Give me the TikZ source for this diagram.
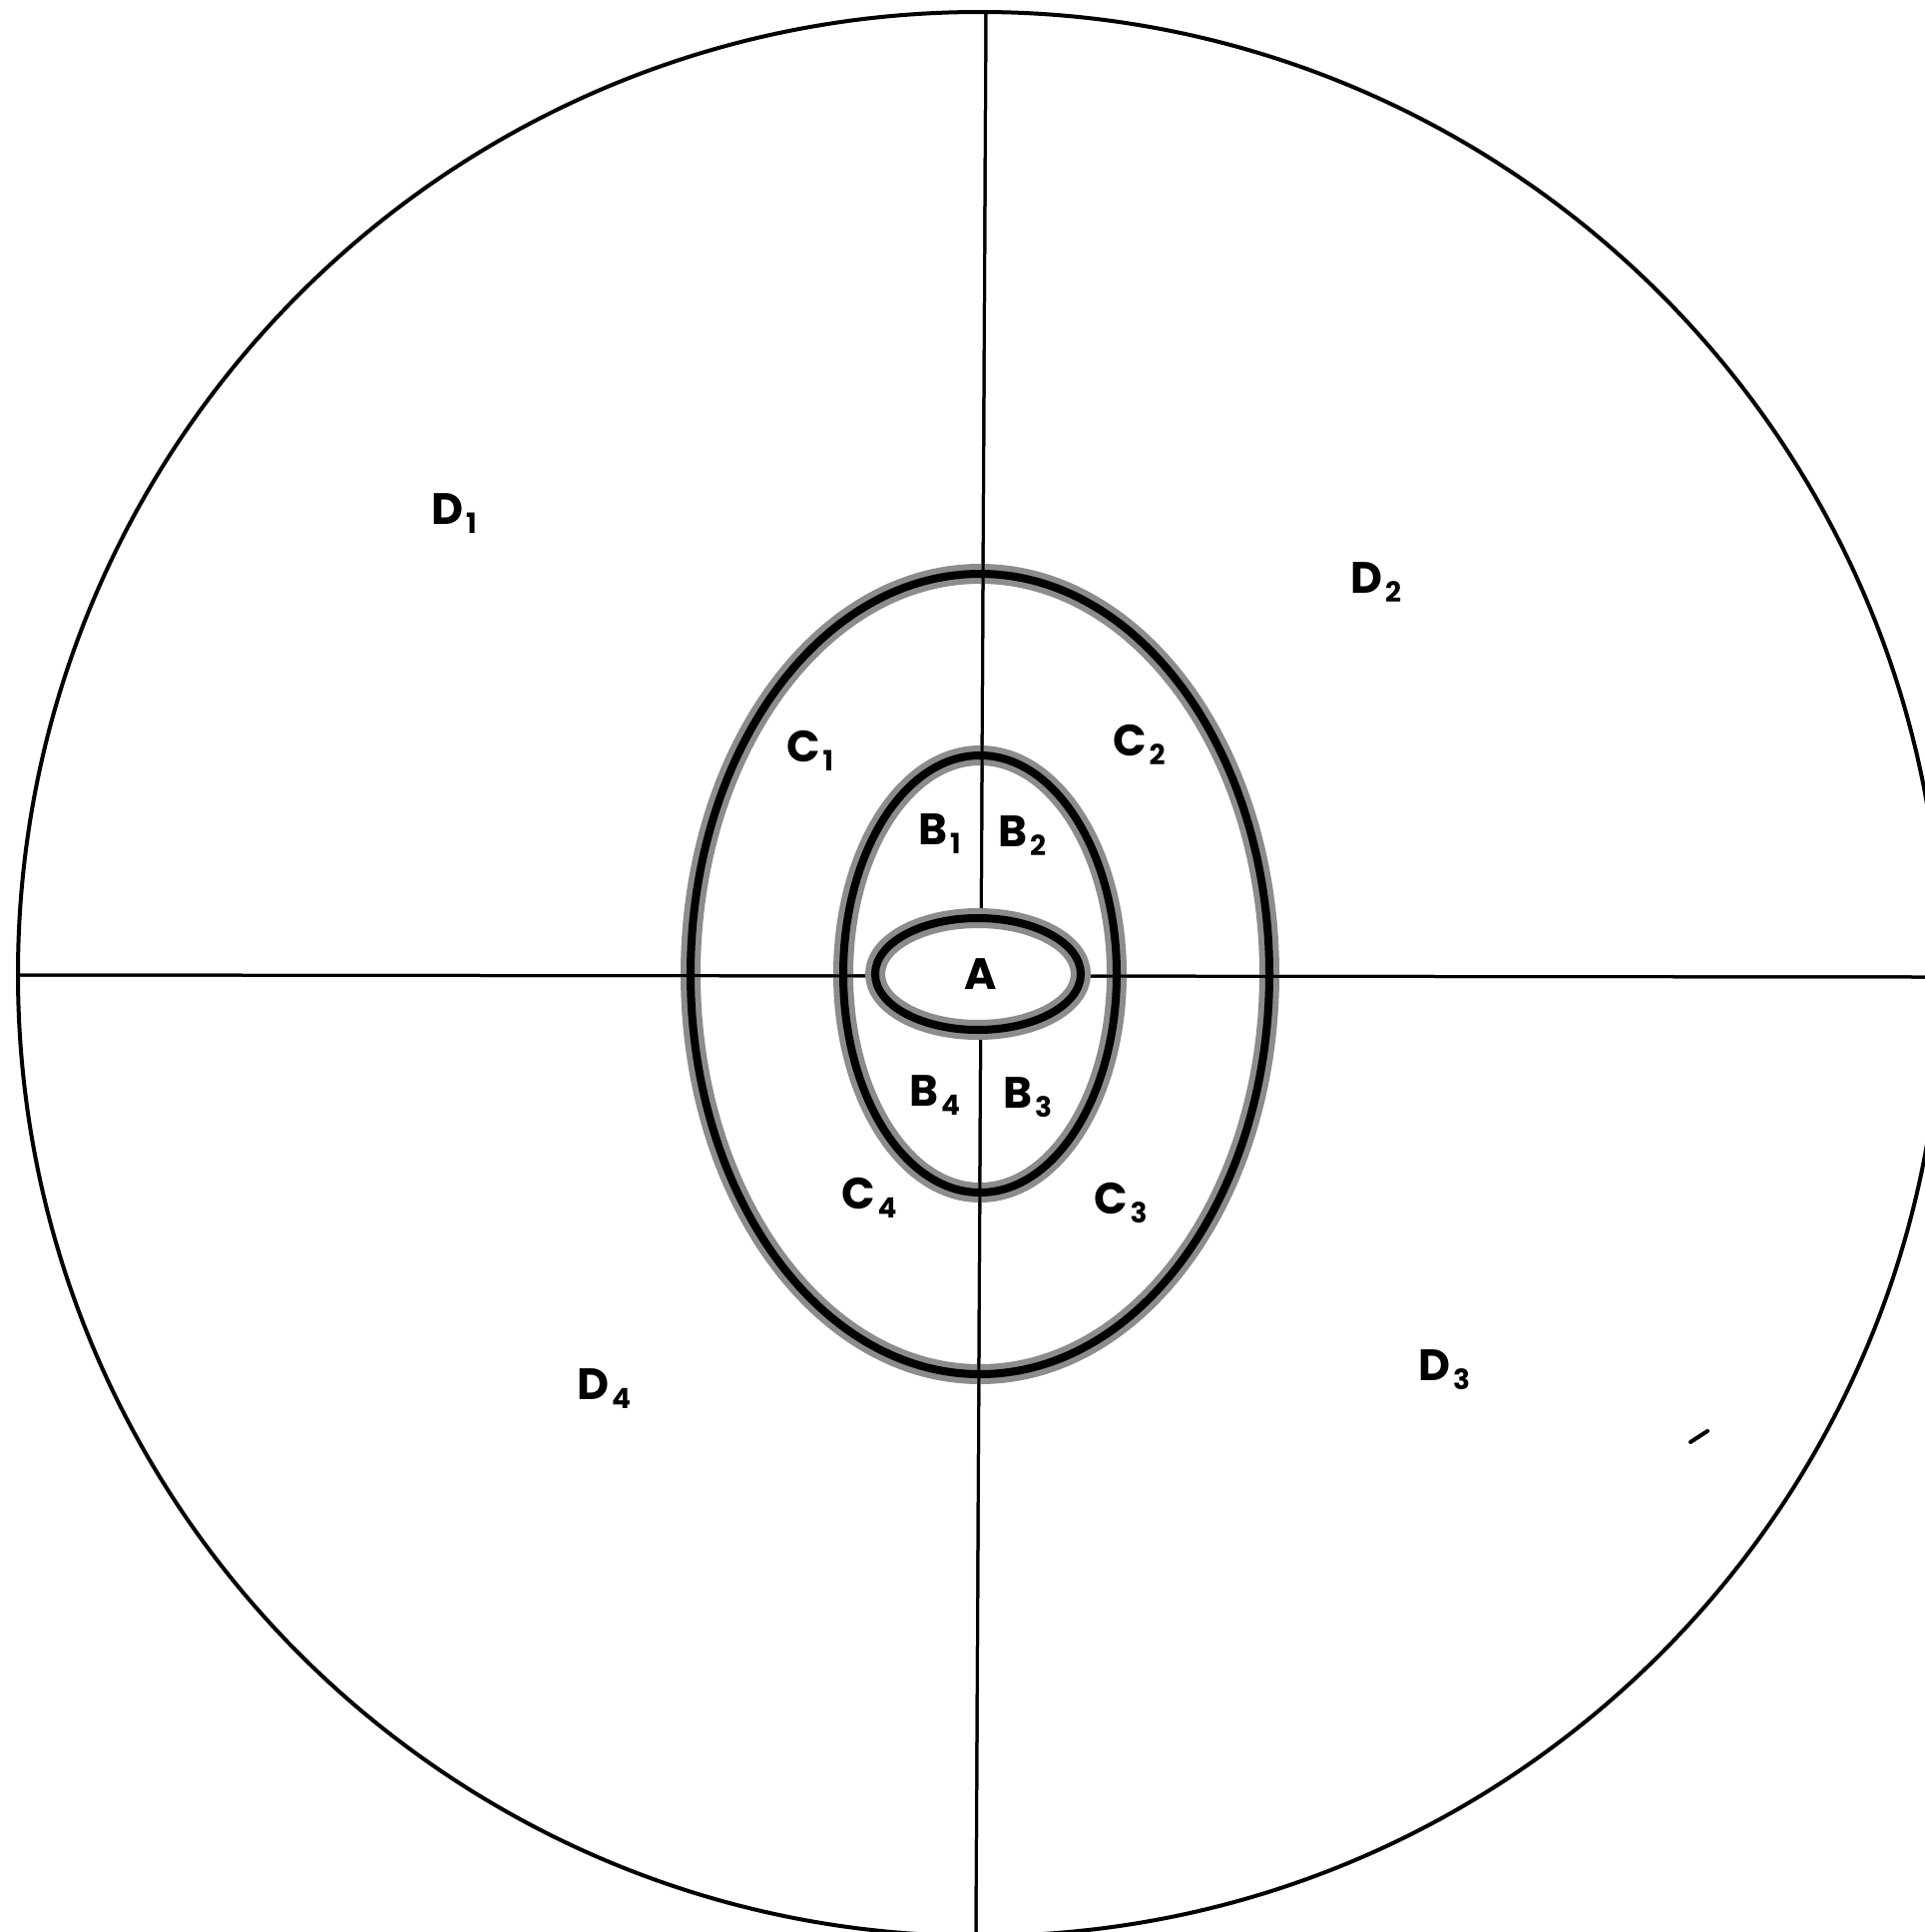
\documentclass[tikz,border=0pt]{standalone}
\usepackage{fontspec}
\setmainfont{Poppins}
\newcommand\lbl[2]{#1\kern3pt\raisebox{-9pt}{\fontsize{28}{28}\selectfont #2}}
\tikzset{
  lab/.style={inner sep=0pt, anchor=base west, font=\fontsize{44}{50}\selectfont\bfseries},
  halo/.style={line width=20pt, draw=black!45},
  core/.style={line width=8pt, draw=black},
  thin/.style={line width=3pt, draw=black},
}
\begin{document}
\begin{tikzpicture}[x=1pt,y=-1pt]
\useasboundingbox (0,0) rectangle (1929,1936);
\fill[white] (0,0) rectangle (1929,1936);
\begin{scope}
\clip (0,0) rectangle (1929,1936);
\coordinate (O) at (982,976);
\draw[line width=4pt] (O) circle [radius=964pt];
\coordinate (L) at (17,977);
\coordinate (R) at (1929,979);
\coordinate (T) at (988,12);
\coordinate (Bt) at (978,1936);
\draw[thin] (L) -- (R);
\draw[thin] (T) -- (Bt);
% C oval
\draw[halo] (O) ellipse [x radius=290pt, y radius=401pt];
\draw[core] (O) ellipse [x radius=290pt, y radius=401pt];
% B oval
\draw[halo] (O) ellipse [x radius=137pt, y radius=219pt];
\draw[core] (O) ellipse [x radius=137pt, y radius=219pt];
% redraw axes over ovals
\draw[thin] (L) -- (R);
\draw[thin] (T) -- (Bt);
% A oval
\draw[halo, fill=white] (980,976) ellipse [x radius=103pt, y radius=56pt];
\draw[core] (980,976) ellipse [x radius=103pt, y radius=56pt];
% smudge
\coordinate (s1) at (1694,1445);
\coordinate (s2) at (1711,1434);
\draw[line width=4pt, line cap=round] (s1) -- (s2);
\end{scope}
\node[lab] (d1) at (432,525) {\lbl{D}{1}};
\node[lab] (d2) at (1353,594) {\lbl{D}{2}};
\node[lab] (d3) at (1421,1383) {\lbl{D}{3}};
\node[lab] (d4) at (578,1402) {\lbl{D}{4}};
\node[lab] (c1) at (788,763) {\lbl{C}{1}};
\node[lab] (c2) at (1115,757) {\lbl{C}{2}};
\node[lab] (c3) at (1096,1216) {\lbl{C}{3}};
\node[lab] (c4) at (843,1211) {\lbl{C}{4}};
\node[lab] (b1) at (920,846) {\lbl{B}{1}};
\node[lab] (b2) at (1000,848) {\lbl{B}{2}};
\node[lab] (b4) at (911,1108) {\lbl{B}{4}};
\node[lab] (b3) at (1005,1110) {\lbl{B}{3}};
\node[inner sep=0pt, font=\fontsize{44}{50}\selectfont\bfseries] (a) at (983,976) {A};
\end{tikzpicture}
\end{document}
